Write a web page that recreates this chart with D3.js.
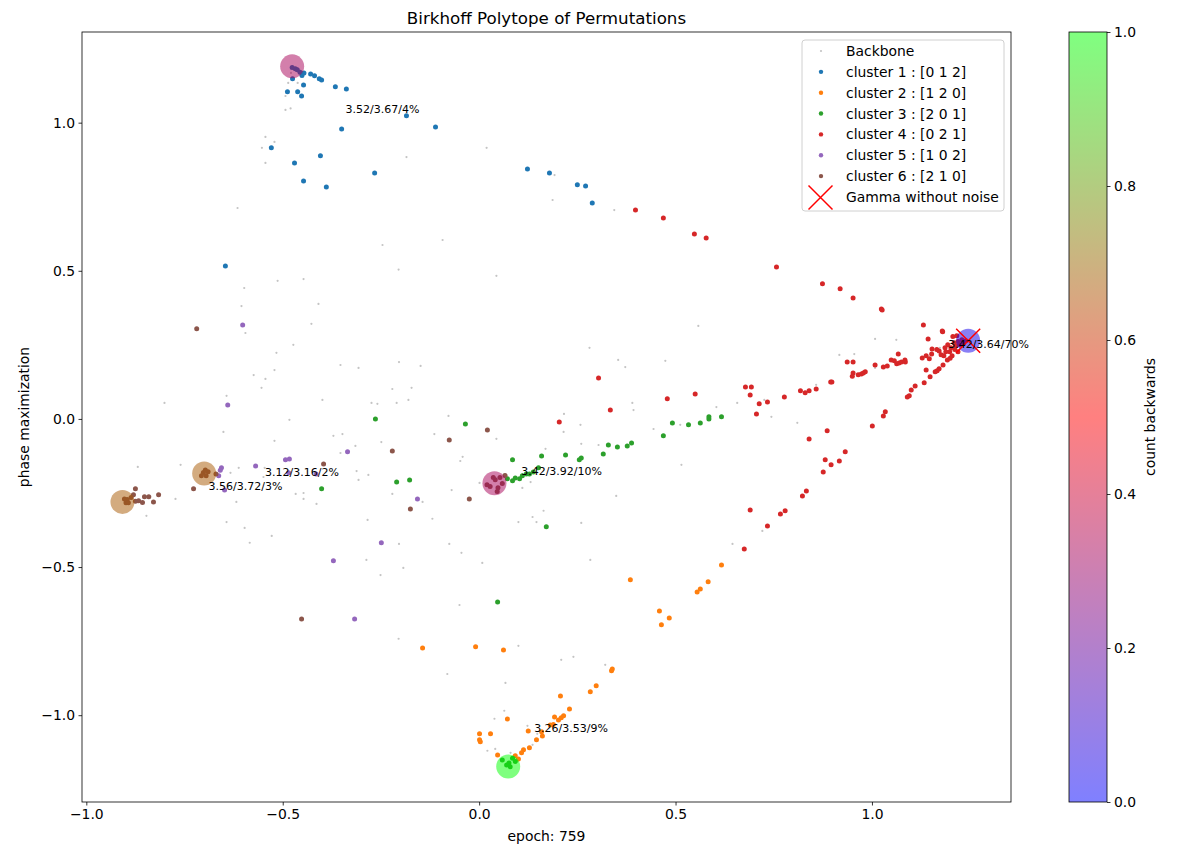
<!DOCTYPE html>
<html>
<head>
<meta charset="utf-8">
<script src="https://cdnjs.cloudflare.com/ajax/libs/d3/7.8.5/d3.min.js"></script>
<style>
body { margin: 0; background: #fff; }
text { font-family: "DejaVu Sans", sans-serif; fill: #000; }
</style>
</head>
<body>
<div id="chart"></div>
<script>
//data
var backbone = [
    [-0.479,1.168],[-0.486,1.134],[-0.462,1.134],[-0.493,1.090],[-0.493,1.043],[-0.480,1.048],[-0.544,0.952],[-0.521,0.935],
    [-0.553,0.915],[-0.544,0.864],[-0.615,0.712],[-0.246,0.587],[-0.205,0.504],[-0.513,0.466],[-0.447,0.472],[-0.598,0.442],
    [-0.185,0.884],[0.019,0.915],[0.192,0.823],[0.187,0.739],[0.344,0.705],[-0.093,0.604],[0.044,0.483],
    [-0.605,0.381],[-0.409,0.388],[-0.427,0.321],[-0.595,0.290],[-0.473,0.250],[-0.516,0.223],[-0.204,0.192],[-0.521,0.165],
    [-0.574,0.148],[-0.544,0.135],[-0.353,0.182],[-0.307,0.172],[-0.554,0.105],[-0.221,0.101],[-0.801,0.054],[-0.643,0.078],
    [-0.399,0.064],[-0.274,0.054],[-0.259,0.051],[-0.210,0.054],[-0.483,-0.003],[-0.651,-0.044],[-0.371,-0.057],[-0.348,-0.051],
    [-0.521,-0.074],[-0.249,-0.078],[-0.315,-0.091],[-0.353,-0.115],[-0.869,-0.162],[-0.760,-0.155],[-0.612,-0.165],[-0.633,-0.182],
    [-0.546,-0.165],[-0.312,-0.176],[-0.282,-0.189],[-0.307,-0.206],[-0.549,-0.196],[-0.467,-0.253],[-0.447,-0.250],[-0.447,-0.270],
    [-0.221,-0.253],[-0.773,-0.270],[-0.618,-0.280],[-0.414,-0.287],[-0.847,-0.327],[-0.643,-0.348],[-0.284,-0.341],[-0.597,-0.368],
    [-0.528,-0.395],[-0.149,0.179],[-0.172,0.105],[-0.180,0.064],[-0.078,0.010],[-0.114,-0.051],[0.281,0.240],[0.354,0.199],
    [0.372,0.175],[0.474,0.196],[0.558,0.314],[0.216,0.017],[0.258,-0.020],[0.215,-0.044],[0.390,0.054],[0.393,0.030],
    [0.444,-0.034],[0.512,-0.020],[0.044,-0.067],[0.169,-0.101],[0.260,-0.084],[0.304,-0.088],[0.515,-0.155],[-0.042,-0.128],
    [-0.048,-0.142],[0.001,-0.216],[0.064,-0.186],[0.131,-0.213],[0.110,-0.233],[-0.070,-0.240],[-0.144,-0.280],[0.349,-0.260],
    [0.164,-0.310],[0.136,-0.331],[0.146,-0.348],[0.100,-0.348],[-0.119,-0.337],[0.260,-0.351],
    [0.604,0.040],[0.657,0.054],[0.726,0.064],[0.744,0.007],[0.810,-0.013],[0.858,0.115],[0.917,0.216],[0.955,0.219],
    [1.008,0.270],[1.062,0.267],[1.008,0.172],[1.173,0.240],[0.721,-0.378],
    [-0.584,-0.418],[-0.287,-0.476],[-0.251,-0.527],[-0.204,-0.422],[-0.205,-0.742],
    [-0.076,-0.422],[-0.045,-0.452],[0.008,-0.486],[-0.193,-0.503],[0.283,-0.476],[-0.050,-0.628],[0.100,-0.766],[0.209,-0.813],
    [0.240,-0.803],[0.321,-0.830],[-0.081,-0.861],[0.067,-0.891],[0.064,-0.985],[0.039,-1.012],[0.123,-1.036],[0.148,-1.063],
    [0.136,-1.100],[0.021,-1.120],[0.041,-1.114],[0.080,-1.127],[0.645,-0.422]
];

var cluster1 = [
    [-0.475,1.148],[-0.451,1.159],[-0.446,1.168],[-0.429,1.164],[-0.419,1.158],[-0.407,1.148],[-0.401,1.144],[-0.366,1.121],
    [-0.338,1.114],[-0.447,1.127],[-0.488,1.104],[-0.462,1.104],[-0.452,1.090],[-0.350,0.979],[-0.529,0.915],[-0.404,0.888],
    [-0.470,0.864],[-0.266,0.830],[-0.447,0.803],[-0.389,0.783],[-0.646,0.516],
    [-0.476,1.186],[-0.468,1.182],[-0.463,1.179],[-0.456,1.170],
    [-0.185,1.023],[-0.111,0.985],[0.123,0.844],[0.179,0.830],[0.250,0.790],[0.271,0.786],[0.288,0.729]
];

var cluster2 = [
    [-0.144,-0.773],[-0.009,-0.769],[0.062,-0.780],[0.385,-0.543],[0.459,-0.648],[0.484,-0.672],[0.464,-0.695],[0.555,-0.584],
    [0.563,-0.574],[0.583,-0.550],[0.617,-0.493],[0.337,-0.850],[0.339,-0.844],[0.298,-0.901],[0.283,-0.921],[0.207,-0.935],
    [0.230,-0.979],[0.192,-1.006],[0.202,-1.016],[0.209,-1.009],[0.215,-1.002],[0.181,-1.033],[0.189,-1.031],[0.072,-1.013],
    [0.001,-1.063],[0.029,-1.063],[0.001,-1.083],[0.003,-1.090],[0.125,-1.053],[0.159,-1.056],[0.161,-1.070],[0.146,-1.083],
    [0.128,-1.110],[0.113,-1.117],[0.108,-1.127],[0.092,-1.137],[0.047,-1.134],[0.100,-1.148]
];

var cluster3 = [
    [-0.264,0.000],[-0.210,-0.213],[-0.401,-0.236],[-0.035,-0.017],[0.085,-0.138],[0.159,-0.125],[0.220,-0.122],[0.255,-0.138],
    [0.260,-0.132],[0.316,-0.118],[0.329,-0.088],[0.352,-0.095],[0.377,-0.091],[0.388,-0.081],[0.469,-0.057],[0.492,-0.014],
    [0.533,-0.020],[0.563,-0.014],[0.585,0.007],[0.585,0.000],[0.617,0.007],[-0.177,-0.206],[0.171,-0.364],
    [0.072,-0.202],[0.085,-0.209],[0.092,-0.199],[0.103,-0.202],[0.110,-0.192],[0.120,-0.186],[0.128,-0.186],[0.138,-0.179],
    [0.151,-0.165],[0.047,-0.618],
    [0.059,-1.151],[0.070,-1.168],[0.079,-1.174],[0.085,-1.145],[0.092,-1.156],[0.076,-1.161]
];

var cluster4 = [
    [0.398,0.705],[0.469,0.678],[0.548,0.624],[0.578,0.611],[0.757,0.513],[0.874,0.456],[0.919,0.439],[0.952,0.408],
    [1.024,0.371],[1.026,0.368],[1.131,0.317],[1.179,0.297],[1.180,0.294],[1.143,0.270],[1.153,0.236],[1.171,0.229],
    [1.165,0.234],[1.067,0.219],[1.128,0.206],[1.138,0.213],[1.146,0.203],[1.152,0.219],[1.049,0.199],[1.057,0.196],
    [1.063,0.186],[1.069,0.189],[1.075,0.192],[1.084,0.199],[1.085,0.192],[1.029,0.175],[1.039,0.179],[1.008,0.182],
    [0.937,0.192],[0.952,0.192],[0.952,0.155],[0.950,0.144],[0.965,0.149],[0.973,0.152],[0.978,0.155],[0.983,0.159],
    [1.138,0.165],[1.161,0.159],[1.166,0.163],[1.171,0.169],[1.181,0.182],[1.192,0.199],[1.199,0.205],[1.204,0.213],
    [1.148,0.142],[1.133,0.122],[1.110,0.111],[1.100,0.098],[1.095,0.078],[1.090,0.074],[0.895,0.125],[0.898,0.125],
    [0.858,0.101],[0.840,0.095],[0.830,0.088],[0.818,0.095],[0.777,0.074],[0.678,0.108],[0.693,0.108],[0.690,0.081],
    [0.713,0.051],[0.734,0.057],[0.706,0.017],[1.034,0.024],[1.029,0.010],[1.001,-0.024],[0.886,-0.040],[0.840,-0.068],
    [0.932,-0.111],[0.881,-0.138],[0.917,-0.142],[0.896,-0.155],[0.876,-0.179],[0.833,-0.243],[0.823,-0.260],[0.690,-0.307],
    [0.779,-0.310],[0.767,-0.321],[0.734,-0.361],[0.675,-0.439],
    [0.304,0.138],[0.334,0.030],[0.204,-0.010],[0.479,0.068],[0.550,0.084],
    [1.193,0.250],[1.201,0.240],[1.209,0.257],[1.214,0.247],[1.219,0.261],[1.224,0.250],[1.229,0.267],[1.234,0.257],
    [1.188,0.227],[1.198,0.227],[1.183,0.213],[1.211,0.234],[1.219,0.227],[1.206,0.278],[1.186,0.240],[1.176,0.217],
    [1.239,0.264],[1.216,0.281]
];

var cluster5 = [
    [-0.602,0.317],[-0.640,0.047],[-0.335,-0.111],[-0.493,-0.138],[-0.483,-0.135],[-0.569,-0.159],[-0.656,-0.165],[-0.659,-0.173],
    [-0.663,-0.192],[-0.648,-0.240],[-0.485,-0.182],[-0.415,-0.186],[-0.157,-0.270],[-0.249,-0.418],[-0.371,-0.479],[-0.317,-0.675]
];

var cluster6 = [
    [-0.719,0.304],[-0.396,-0.152],[-0.221,-0.108],[-0.727,-0.236],
    [-0.702,-0.181],[-0.695,-0.192],[-0.690,-0.178],[-0.707,-0.192],[-0.697,-0.172],[-0.670,-0.186],
    [-0.875,-0.236],[-0.880,-0.256],[-0.886,-0.265],[-0.896,-0.272],[-0.899,-0.283],[-0.875,-0.278],[-0.867,-0.276],[-0.857,-0.282],
    [-0.852,-0.263],[-0.841,-0.263],[-0.829,-0.280],[-0.816,-0.256],[-0.903,-0.270],[-0.893,-0.283],
    [0.021,-0.037],[-0.076,-0.071],[-0.025,-0.270],[-0.175,-0.304],[-0.452,-0.675],
    [0.041,-0.205],[0.028,-0.228],[0.048,-0.232],[0.059,-0.218],[0.046,-0.245],[0.036,-0.198],[0.053,-0.198],[0.020,-0.222],[0.066,-0.191]
];

var clusterLabels = ['cluster 1 : [0 1 2]', 'cluster 2 : [1 2 0]', 'cluster 3 : [2 0 1]',
    'cluster 4 : [0 2 1]', 'cluster 5 : [1 0 2]', 'cluster 6 : [2 1 0]'];
var clusterColors = ['#1f77b4', '#ff7f0e', '#2ca02c', '#d62728', '#9467bd', '#8c564b'];

// cluster centres: x, y, count backwards
var centreX = [-0.476, 0.074, 0.039, 1.245, -0.700, -0.908];
var centreY = [1.190, -1.173, -0.217, 0.264, -0.184, -0.280];
var centreBackwards = [0.33, 1.0, 0.33, 0.04, 0.67, 0.67];

var gammaPoint = [1.245, 0.264];

var noteTexts = ['3.52/3.67/4%', '3.26/3.53/9%', '3.42/3.92/10%', '3.42/3.64/70%', '3.12/3.16/2%', '3.56/3.72/3%'];
var noteX = [-0.340, 0.140, 0.107, 1.194, -0.545, -0.689];
var noteY = [1.034, -1.056, -0.189, 0.241, -0.192, -0.240];

var xTicks = [-1.0, -0.5, 0.0, 0.5, 1.0];
var yTicks = [-1.0, -0.5, 0.0, 0.5, 1.0];
var cbarTicks = [0.0, 0.2, 0.4, 0.6, 0.8, 1.0];

//sizes
var outerW = 1184,
    outerH = 857,
    margin = { left: 82, top: 32, right: 173, bottom: 55 },
    plotW = outerW - margin.left - margin.right,
    plotH = outerH - margin.top - margin.bottom;

var cbarLeft = 1069,
    cbarW = 38;

var svg = d3.select('#chart').append('svg')
    .attr('width', outerW)
    .attr('height', outerH);

var xScale = d3.scaleLinear().domain([-1.011, 1.354]).range([0, plotW]),
    yScale = d3.scaleLinear().domain([-1.293, 1.306]).range([plotH, 0]),
    brg = d3.scaleLinear().domain([0, 0.5, 1]).range(['#0000ff', '#ff0000', '#00ff00']),
    cbarScale = d3.scaleLinear().domain([0, 1]).range([margin.top + plotH, margin.top]);

var fmt = d3.format('.1f');

var g = svg.append('g')
    .attr('transform', 'translate(' + margin.left + ',' + margin.top + ')');

// axes
var xAxis = d3.axisBottom(xScale)
    .tickValues(xTicks)
    .tickFormat(fmt)
    .tickSizeInner(3.5)
    .tickSizeOuter(0)
    .tickPadding(3.5);

var yAxis = d3.axisLeft(yScale)
    .tickValues(yTicks)
    .tickFormat(fmt)
    .tickSizeInner(3.5)
    .tickSizeOuter(0)
    .tickPadding(3.5);

g.append('g')
    .attr('class', 'x-axis')
    .attr('transform', 'translate(0,' + plotH + ')')
    .call(xAxis);

g.append('g')
    .attr('class', 'y-axis')
    .call(yAxis);

g.selectAll('.x-axis, .y-axis').select('.domain').remove();
g.selectAll('.tick line').attr('stroke', '#000').attr('stroke-width', 0.8);
g.selectAll('.tick text').style('font-size', '13.9px').style('font-family', '"DejaVu Sans", sans-serif');

// backbone
g.selectAll('.backbone-dot')
    .data(backbone)
    .enter()
    .append('circle')
    .attr('class', 'backbone-dot')
    .attr('cx', function(d) { return xScale(d[0]); })
    .attr('cy', function(d) { return yScale(d[1]); })
    .attr('r', 1.1)
    .attr('fill', '#c4c4c4');

// clusters
var clusters = [cluster1, cluster2, cluster3, cluster4, cluster5, cluster6];
clusters.forEach(function(pts, i) {
    g.selectAll('.cluster-dot-' + i)
        .data(pts)
        .enter()
        .append('circle')
        .attr('class', 'cluster-dot-' + i)
        .attr('cx', function(d) { return xScale(d[0]); })
        .attr('cy', function(d) { return yScale(d[1]); })
        .attr('r', 2.5)
        .attr('fill', clusterColors[i]);
});

// big centre circles
g.selectAll('.centre')
    .data(centreX)
    .enter()
    .append('circle')
    .attr('class', 'centre')
    .attr('cx', function(d) { return xScale(d); })
    .attr('cy', function(d, i) { return yScale(centreY[i]); })
    .attr('r', 12)
    .attr('fill', function(d, i) { return brg(centreBackwards[i]); })
    .attr('fill-opacity', 0.5);

// gamma without noise
function drawCross(sel, cx, cy, h) {
    sel.append('path')
        .attr('d', 'M' + (cx - h) + ',' + (cy - h) + 'L' + (cx + h) + ',' + (cy + h) +
            'M' + (cx - h) + ',' + (cy + h) + 'L' + (cx + h) + ',' + (cy - h))
        .attr('stroke', '#ff0000')
        .attr('stroke-width', 1.5)
        .attr('fill', 'none');
}
drawCross(g, xScale(gammaPoint[0]), yScale(gammaPoint[1]), 12);

// annotations
g.selectAll('.note')
    .data(noteTexts)
    .enter()
    .append('text')
    .attr('class', 'note')
    .attr('x', function(d, i) { return xScale(noteX[i]); })
    .attr('y', function(d, i) { return yScale(noteY[i]); })
    .style('font-size', '11px')
    .text(function(d) { return d; });

// frame
g.append('rect')
    .attr('width', plotW)
    .attr('height', plotH)
    .attr('fill', 'none')
    .attr('stroke', '#000')
    .attr('stroke-width', 0.8);

// legend
var legend = svg.append('g').attr('transform', 'translate(802,40)');
legend.append('rect')
    .attr('width', 202)
    .attr('height', 171)
    .attr('rx', 3)
    .attr('fill', '#fff')
    .attr('fill-opacity', 0.8)
    .attr('stroke', '#d0d0d0')
    .attr('stroke-width', 1);

var legendLabels = ['Backbone'].concat(clusterLabels).concat(['Gamma without noise']);
var rowH = 20.85;
legendLabels.forEach(function(lab, i) {
    var cy = 11 + i * rowH;
    if (i == 0) {
        legend.append('circle').attr('cx', 19).attr('cy', cy).attr('r', 1.1).attr('fill', '#c4c4c4');
    } else if (i <= 6) {
        legend.append('circle').attr('cx', 19).attr('cy', cy).attr('r', 2.2).attr('fill', clusterColors[i - 1]);
    } else {
        drawCross(legend, 18.5, cy + 0.5, 12);
    }
    legend.append('text')
        .attr('x', 44)
        .attr('y', cy + 5)
        .style('font-size', '13.9px')
        .text(lab);
});

// titles
svg.append('text')
    .attr('x', margin.left + plotW / 2)
    .attr('y', 24)
    .attr('text-anchor', 'middle')
    .style('font-size', '16.7px')
    .text('Birkhoff Polytope of Permutations');

svg.append('text')
    .attr('x', margin.left + plotW / 2)
    .attr('y', 841)
    .attr('text-anchor', 'middle')
    .style('font-size', '13.9px')
    .text('epoch: 759');

svg.append('text')
    .attr('transform', 'translate(29,' + (margin.top + plotH / 2) + ') rotate(-90)')
    .attr('text-anchor', 'middle')
    .style('font-size', '13.9px')
    .text('phase maximization');

// colorbar
var defs = svg.append('defs');
var grad = defs.append('linearGradient')
    .attr('id', 'cbar-grad')
    .attr('x1', 0).attr('y1', 1).attr('x2', 0).attr('y2', 0);
d3.range(0, 1.0001, 0.05).forEach(function(t) {
    grad.append('stop')
        .attr('offset', t)
        .attr('stop-color', brg(t))
        .attr('stop-opacity', 0.5);
});

svg.append('rect')
    .attr('x', cbarLeft)
    .attr('y', margin.top)
    .attr('width', cbarW)
    .attr('height', plotH)
    .attr('fill', 'url(#cbar-grad)')
    .attr('stroke', '#000')
    .attr('stroke-width', 0.8);

var cbarAxis = d3.axisRight(cbarScale)
    .tickValues(cbarTicks)
    .tickFormat(fmt)
    .tickSizeInner(3.5)
    .tickSizeOuter(0)
    .tickPadding(3.5);

var cbarG = svg.append('g')
    .attr('transform', 'translate(' + (cbarLeft + cbarW) + ',0)')
    .call(cbarAxis);
cbarG.select('.domain').remove();
cbarG.selectAll('.tick line').attr('stroke', '#000').attr('stroke-width', 0.8);
cbarG.selectAll('.tick text').style('font-size', '13.9px').style('font-family', '"DejaVu Sans", sans-serif');

svg.append('text')
    .attr('transform', 'translate(1155,' + (margin.top + plotH / 2) + ') rotate(-90)')
    .attr('text-anchor', 'middle')
    .style('font-size', '13.9px')
    .text('count backwards');
</script>
</body>
</html>
